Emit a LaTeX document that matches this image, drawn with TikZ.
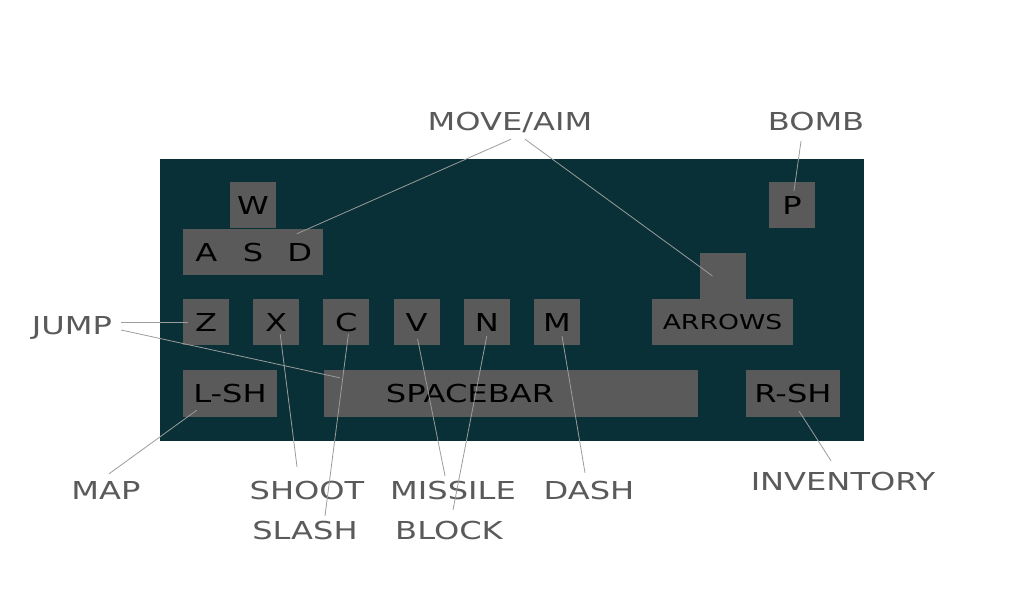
\documentclass[tikz,border=0pt]{standalone}
\usepackage{fontspec}
\setmainfont[FakeStretch=1.3]{DejaVu Sans}
\definecolor{board}{HTML}{083036}
\definecolor{keygray}{HTML}{5A5A5A}
\definecolor{pointer}{HTML}{9C9C9C}
\def\keystep{70.2}

\begin{document}
\begin{tikzpicture}[x=1pt,y=-1pt,font=\fontsize{24.7}{28}\selectfont]
    \tikzstyle{key}=[fill=keygray,text=black,minimum width=46pt,minimum height=46pt,inner sep=0pt,text height=18pt,text depth=0pt]
    \tikzstyle{wide key}=[key,minimum width=94pt,minimum height=47pt]
    \tikzstyle{annot}=[text=keygray,inner sep=9pt,text height=18pt,text depth=0pt]
    \tikzstyle{pointer line}=[draw=pointer,line width=0.8pt]

    \useasboundingbox (0,0) rectangle (1024,600);

    % Draw the board
    \fill[board] (160,159) rectangle (864,441);

    % Draw the W A S D keys
    \node[key,minimum width=46.7pt] (W) at (253,205) {W};
    \foreach \name [count=\i] in {A,S,D}
        \node[key,minimum width=46.7pt] (\name) at (183+46.7*\i-23.35,252) {\name};

    % Draw the row of action keys
    \foreach \name [count=\i] in {Z,X,C,V,N,M}
        \node[key] (\name) at (206+\keystep*\i-\keystep,322) {\name};

    % Arrow keys, bomb key
    \node[key] (up) at (722.5,276) {};
    \node[key,minimum width=141pt,font=\fontsize{20.5}{24}\selectfont,text height=15pt] (arrows) at (722.5,322) {ARROWS};
    \node[key] (P) at (792,205) {P};

    % Shift keys and spacebar
    \node[wide key] (lsh) at (230,393.5) {L-SH};
    \node[wide key,minimum width=374pt] (space) at (511,393.5) {SPACEBAR\hspace*{82pt}};
    \node[wide key] (rsh) at (793,393.5) {R-SH};

    % Annotate the keys
    \node[annot] (moveaim) at (510,121) {MOVE/AIM};
    \node[annot] (bomb) at (816,121) {BOMB};
    \node[annot] (jump) at (72,325) {JUMP};
    \node[annot] (map) at (106,490) {MAP};
    \node[annot] (shoot) at (307,490) {SHOOT};
    \node[annot] (slash) at (305,530) {SLASH};
    \node[annot] (missile) at (453,490) {MISSILE};
    \node[annot] (block) at (449,530) {BLOCK};
    \node[annot] (dash) at (589,490) {DASH};
    \node[annot] (inventory) at (843,481) {INVENTORY};

    % Connect every annotation with its key
    \draw[pointer line] ([xshift=1pt]moveaim.south) -- ([xshift=-3pt,yshift=-5pt]D.north);
    \draw[pointer line] ([xshift=15pt]moveaim.south) -- ([xshift=-10pt]up.center);
    \draw[pointer line] ([xshift=-15pt,yshift=-2pt]bomb.south) -- ([xshift=2pt,yshift=-9pt]P.north);
    \draw[pointer line] ([yshift=3pt]jump.east) -- ([xshift=5pt]Z.west);
    \draw[pointer line] ([yshift=-5pt]jump.east) -- ([xshift=16pt,yshift=-8pt]space.north west);
    \draw[pointer line] ([xshift=3pt,yshift=-2pt]map.north) -- ([xshift=14pt,yshift=7pt]lsh.south west);
    \draw[pointer line] ([xshift=-10pt,yshift=5pt]shoot.north) -- ([xshift=4pt,yshift=-12pt]X.center);
    \draw[pointer line] ([xshift=20pt,yshift=-4pt]slash.north) -- ([xshift=2pt,yshift=-12pt]C.center);
    \draw[pointer line] ([xshift=-8pt,yshift=-4pt]missile.north) -- ([xshift=1pt,yshift=-17pt]V.center);
    \draw[pointer line] ([xshift=4pt,yshift=2pt]block.north) -- ([yshift=-14pt]N.center);
    \draw[pointer line] ([xshift=-4pt,yshift=-1pt]dash.north) -- ([xshift=5pt,yshift=-14pt]M.center);
    \draw[pointer line] ([xshift=-12pt,yshift=2pt]inventory.north) -- ([xshift=6pt,yshift=-17.5pt]rsh.center);
\end{tikzpicture}
\end{document}
